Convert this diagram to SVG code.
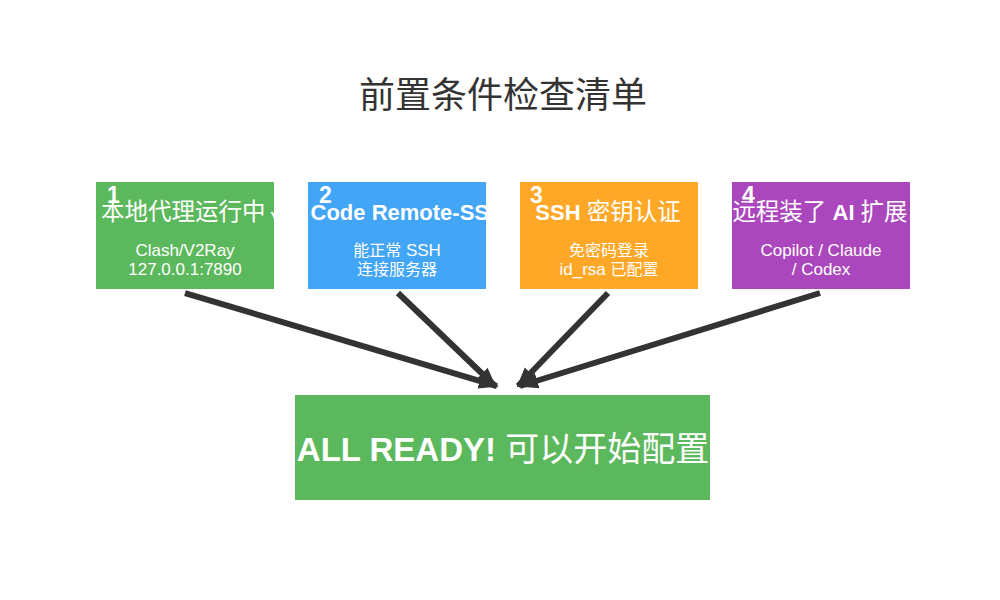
<svg xmlns="http://www.w3.org/2000/svg" width="1000" height="600" viewBox="0 0 1000 600">
<style>
.title{font-family:"Noto Sans CJK SC","Liberation Serif",serif;font-size:36px;fill:#333;}
.num{font-family:"Liberation Sans",Arial,sans-serif;font-weight:bold;font-size:23px;fill:#fff;}
.head{font-family:"Liberation Sans","Noto Sans CJK SC",sans-serif;font-weight:bold;font-size:22px;fill:#fff;}
.head .cjk{font-family:"Noto Sans CJK SC",sans-serif;font-weight:normal;font-size:23.5px;}
.sub{font-family:"Liberation Sans","Noto Sans CJK SC",sans-serif;font-size:17px;fill:#fff;text-anchor:middle;}
.sub .cjk{font-family:"Noto Sans CJK SC",sans-serif;font-size:16px;}
.big{font-family:"Liberation Sans","Noto Sans CJK SC",sans-serif;font-weight:bold;font-size:33px;fill:#fff;}
.big .cjk{font-family:"Noto Sans CJK SC",sans-serif;font-weight:normal;font-size:34px;}
.conn{stroke:#333;stroke-width:6;fill:none;marker-end:url(#ah);}
</style>
<defs>
<marker id="ah" markerUnits="userSpaceOnUse" markerWidth="20" markerHeight="20" viewBox="0 0 20 20" refX="18" refY="10" orient="auto">
<path d="M0,2 L20,10 L0,18 z" fill="#333"/>
</marker>
<clipPath id="c1"><rect x="96" y="182" width="178" height="107"/></clipPath>
<clipPath id="c2"><rect x="308" y="182" width="178" height="107"/></clipPath>
<clipPath id="c3"><rect x="520" y="182" width="178" height="107"/></clipPath>
<clipPath id="c4"><rect x="732" y="182" width="178" height="107"/></clipPath>
</defs>
<rect width="1000" height="600" fill="#fff"/>
<text class="title" x="503" y="108" text-anchor="middle">前置条件检查清单</text>

<g id="connectors">
<line class="conn" x1="185" y1="293" x2="497" y2="386"/>
<line class="conn" x1="398" y1="293" x2="495" y2="386"/>
<line class="conn" x1="608" y1="293" x2="518" y2="386"/>
<line class="conn" x1="820" y1="293" x2="520" y2="386"/>
</g>

<g id="node1" clip-path="url(#c1)">
<rect x="96" y="182" width="178" height="107" fill="#5cb85c"/>
<text class="head" x="101" y="220"><tspan class="cjk">本地代理运行中 ✓</tspan></text>
<text class="num" x="107" y="203">1</text>
<text class="sub" x="185" y="256">Clash/V2Ray</text>
<text class="sub" x="185" y="275">127.0.0.1:7890</text>
</g>

<g id="node2" clip-path="url(#c2)">
<rect x="308" y="182" width="178" height="107" fill="#42a5f5"/>
<text class="head" x="390" y="220" text-anchor="middle">VS Code Remote-SSH</text>
<text class="num" x="319" y="203">2</text>
<text class="sub" x="397" y="256"><tspan class="cjk">能正常</tspan> SSH</text>
<text class="sub" x="397" y="275"><tspan class="cjk">连接服务器</tspan></text>
</g>

<g id="node3" clip-path="url(#c3)">
<rect x="520" y="182" width="178" height="107" fill="#ffa726"/>
<text class="head" x="608" y="220" text-anchor="middle">SSH <tspan class="cjk">密钥认证</tspan></text>
<text class="num" x="530" y="203">3</text>
<text class="sub" x="609" y="256"><tspan class="cjk">免密码登录</tspan></text>
<text class="sub" x="609" y="275">id_rsa <tspan class="cjk">已配置</tspan></text>
</g>

<g id="node4" clip-path="url(#c4)">
<rect x="732" y="182" width="178" height="107" fill="#ab47bc"/>
<text class="head" x="820" y="220" text-anchor="middle"><tspan class="cjk">远程装了</tspan> AI <tspan class="cjk">扩展</tspan></text>
<text class="num" x="742" y="203">4</text>
<text class="sub" x="821" y="256">Copilot / Claude</text>
<text class="sub" x="821" y="275">/ Codex</text>
</g>

<g id="ready">
<rect x="295" y="395" width="415" height="105" fill="#5cb85c"/>
<text class="big" x="503" y="461" text-anchor="middle">ALL READY! <tspan class="cjk">可以开始配置</tspan></text>
</g>
</svg>
